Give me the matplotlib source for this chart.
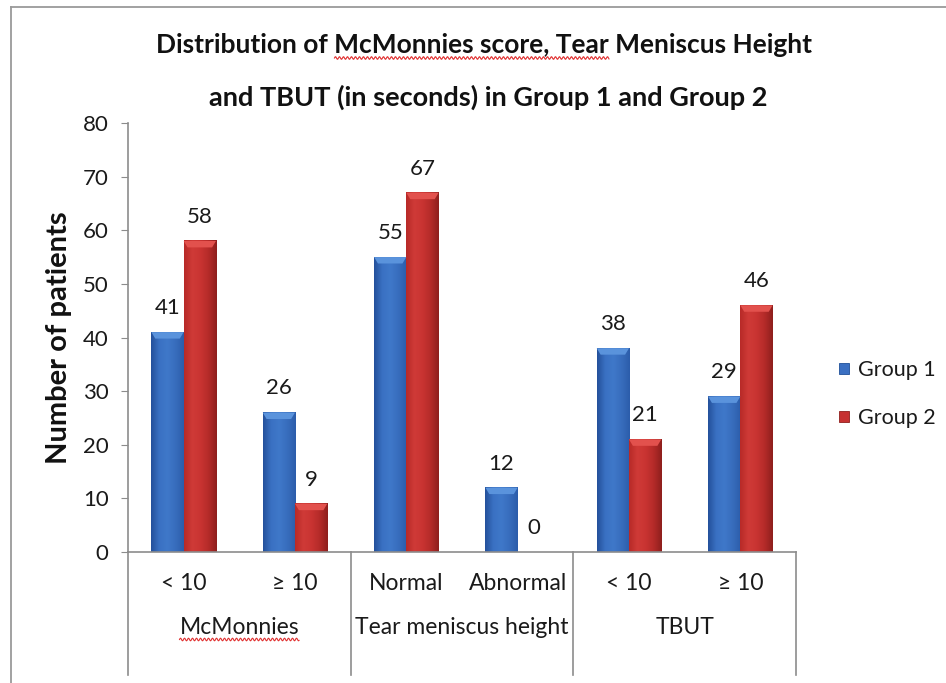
import numpy as np
import matplotlib
matplotlib.use("Agg")
import matplotlib.pyplot as plt
from matplotlib import transforms
from matplotlib.patches import Polygon
from matplotlib.lines import Line2D

plt.rcParams['font.family'] = ['Lato', 'DejaVu Sans']

# chart data
sub_labels = ['< 10', '≥ 10', 'Normal', 'Abnormal', '< 10', '≥ 10']
group_labels = ['McMonnies', 'Tear meniscus height', 'TBUT']
group_1 = [41, 26, 55, 12, 38, 29]
group_2 = [58, 9, 67, 0, 21, 46]
series_names = ['Group 1', 'Group 2']
y_ticks = [0, 10, 20, 30, 40, 50, 60, 70, 80]

BLUE = '#3b70c2'
RED = '#c63131'
GRID = '#8c8c8c'
TXT = '#1a1a1a'

fig = plt.figure(figsize=(9.46, 6.83), dpi=100)
ax = fig.add_axes([128 / 946, 1 - 552 / 683, 668 / 946, 429 / 683])

x = np.arange(len(sub_labels))
w = 0.29
bars1 = ax.bar(x - w / 2, group_1, w, color=BLUE, zorder=2)
bars2 = ax.bar(x + w / 2, group_2, w, color=RED, zorder=2)


def shade(bars, cols, cap):
    # horizontal gradient + bevelled top for an Excel-like look
    grad = np.array([matplotlib.colors.to_rgb(c) for c in cols])
    n = 40
    t = np.linspace(0, 1, n)
    xs = np.linspace(0, 1, len(cols))
    img = np.stack([np.interp(t, xs, grad[:, k]) for k in range(3)], axis=-1)[None, :, :]
    for b in bars:
        bx, bw, bh = b.get_x(), b.get_width(), b.get_height()
        if bh <= 0:
            continue
        ax.imshow(img, extent=[bx, bx + bw, 0, bh], aspect='auto', zorder=2.5,
                  interpolation='bilinear')
        top = min(1.2, bh * 0.5)
        ax.add_patch(Polygon([(bx, bh), (bx + bw, bh), (bx + bw - 0.035, bh - top),
                              (bx + 0.035, bh - top)], closed=True, fc=cap, ec='none',
                             zorder=2.6))


shade(bars1, ['#24519c', '#3a71c3', '#3f78c9', '#386dbd', '#2c5dab'], '#5a93dc')
shade(bars2, ['#b82a28', '#cf3a37', '#c93432', '#b52b29', '#8f1f1d'], '#e2514d')

for b in list(bars1) + list(bars2):
    ax.text(b.get_x() + b.get_width() / 2, b.get_height() + 4.5, f'{b.get_height():g}',
            ha='center', va='center', fontsize=16, color=TXT)

ax.set_xlim(-0.5, len(sub_labels) - 0.5)
ax.set_ylim(0, 80)
ax.set_yticks(y_ticks)
ax.tick_params(axis='y', labelsize=16, length=5, color=GRID, pad=9, labelcolor=TXT)
ax.set_xticks([])
for s in ['top', 'right']:
    ax.spines[s].set_visible(False)
for s in ['left', 'bottom']:
    ax.spines[s].set_color(GRID)
    ax.spines[s].set_linewidth(1.2)
ax.set_ylabel('Number of patients', fontsize=21, fontweight='bold', labelpad=8, color='#111111')

# two-level category axis
tr = transforms.blended_transform_factory(ax.transData, fig.transFigure)
for i, lab in enumerate(sub_labels):
    fig.text(x[i], 1 - 583 / 683, lab, transform=tr, ha='center', va='center', fontsize=16.5,
             color=TXT)
group_txt = []
for g, lab in enumerate(group_labels):
    group_txt.append(fig.text(2 * g + 0.5, 1 - 628 / 683, lab, transform=tr, ha='center',
                              va='center', fontsize=16.5, color=TXT))
for xd in np.arange(-0.5, len(sub_labels), 2):
    fig.add_artist(Line2D([xd, xd], [1 - 552 / 683, 0.012], transform=tr, color=GRID, lw=1.2))

# title
tkw = dict(fontsize=19, fontweight='bold')
t1 = fig.text(0.512, 1 - 45 / 683, 'Distribution of McMonnies score, Tear Meniscus Height',
              ha='center', va='center', color='#111111', **tkw)
fig.text(0.516, 1 - 97 / 683, 'and TBUT (in seconds) in Group 1 and Group 2',
         ha='center', va='center', color='#111111', fontsize=19.5, fontweight='bold')

# legend
handles = [plt.Rectangle((0, 0), 1, 1, fc=BLUE, ec='#1f4f99', lw=0.6),
           plt.Rectangle((0, 0), 1, 1, fc=RED, ec='#8f1f1d', lw=0.6)]
fig.legend(handles, series_names, loc='center left', bbox_to_anchor=(820 / 946, 1 - 394 / 683),
           frameon=False, fontsize=15.5, handlelength=0.45, handleheight=0.45, handletextpad=0.4,
           labelspacing=1.3, labelcolor=TXT)

# outer frame of the chart area
fig.add_artist(Line2D([11 / 946, 11 / 946], [0, 1 - 7 / 683], transform=fig.transFigure,
                      color='#9a9a9a', lw=1.3))
fig.add_artist(Line2D([11 / 946, 1], [1 - 7 / 683, 1 - 7 / 683], transform=fig.transFigure,
                      color='#9a9a9a', lw=1.3))

# red spell-check squiggles under flagged words
fig.canvas.draw()
rend = fig.canvas.get_renderer()


def squiggle(x0, x1, y):
    xs = np.arange(x0, x1, 0.5)
    ys = y + 1.3 * np.sin(2 * np.pi * (xs - x0) / 4.0)
    fig.add_artist(Line2D(xs, ys, transform=transforms.IdentityTransform(), color='#e03030',
                          lw=0.8))


def text_width(s, **kw):
    tmp = fig.text(0, 0, s, **kw)
    wdt = tmp.get_window_extent(rend).width
    tmp.remove()
    return wdt


bb = t1.get_window_extent(rend)
x_start = bb.x0 + text_width('Distribution of ', **tkw)
x_end = bb.x0 + text_width('Distribution of McMonnies score, Tear', **tkw)
squiggle(x_start, x_end, bb.y0 - 1)
gb = group_txt[0].get_window_extent(rend)
squiggle(gb.x0, gb.x1, gb.y0 - 1)

fig.savefig('out.png', dpi=100)
